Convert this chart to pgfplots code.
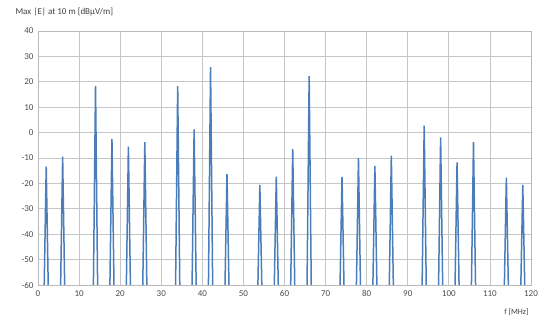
\documentclass[border=0pt]{standalone}
\usepackage{fontspec}
\setmainfont{Carlito}
\usepackage{pgfplots}
\pgfplotsset{compat=1.18}
\definecolor{spk}{HTML}{4A7EBB}
\begin{document}
\begin{tikzpicture}
\begin{axis}[
  name=ax,
  scale only axis, width=493pt, height=254pt,
  xmin=0, xmax=120, ymin=-60, ymax=40,
  xtick={0,10,...,120}, ytick={-60,-50,...,40},
  grid=major, grid style={gray!45, line width=0.7pt},
  axis line style={gray!55, line width=0.7pt},
  tick style={draw=none},
  ticklabel style={font=\fontsize{9}{10}\selectfont, text=black!70},
  /pgf/number format/assume math mode=true,
  xticklabel style={yshift=-2pt},
  yticklabel style={xshift=-1pt},
  clip=true,
]
\addplot[spk, line width=1.5pt, sharp plot, line join=miter] coordinates {
(0,-66)
(1.45,-66)(2,-13.4)(2.55,-66)
(5.45,-66)(6,-9.5)(6.55,-66)
(13.45,-66)(14,18.3)(14.55,-66)
(17.45,-66)(18,-2.5)(18.55,-66)
(21.45,-66)(22,-5.5)(22.55,-66)
(25.45,-66)(26,-3.8)(26.55,-66)
(33.45,-66)(34,18.3)(34.55,-66)
(37.45,-66)(38,1.3)(38.55,-66)
(41.45,-66)(42,25.8)(42.55,-66)
(45.45,-66)(46,-16.4)(46.55,-66)
(53.45,-66)(54,-20.6)(54.55,-66)
(57.45,-66)(58,-17.3)(58.55,-66)
(61.45,-66)(62,-6.5)(62.55,-66)
(65.45,-66)(66,22.2)(66.55,-66)
(73.45,-66)(74,-17.4)(74.55,-66)
(77.45,-66)(78,-10.1)(78.55,-66)
(81.45,-66)(82,-13.1)(82.55,-66)
(85.45,-66)(86,-9.1)(86.55,-66)
(93.45,-66)(94,2.7)(94.55,-66)
(97.45,-66)(98,-1.9)(98.55,-66)
(101.45,-66)(102,-11.7)(102.55,-66)
(105.45,-66)(106,-3.8)(106.55,-66)
(113.45,-66)(114,-17.7)(114.55,-66)
(117.45,-66)(118,-20.6)(118.55,-66)
(120,-66)
};
\end{axis}
\node[anchor=west, font=\fontsize{9}{10}\selectfont, text=black!75] at ([xshift=-26pt,yshift=19pt]ax.north west) {Max |E| at 10 m [dBµV/m]};
\node[anchor=east, font=\fontsize{8}{9}\selectfont, text=black!75] at ([xshift=1pt,yshift=-27pt]ax.south east) {f [MHz]};
\useasboundingbox ([xshift=-38pt,yshift=-37pt]ax.south west) rectangle ([xshift=11pt,yshift=31pt]ax.north east);
\end{tikzpicture}
\end{document}
